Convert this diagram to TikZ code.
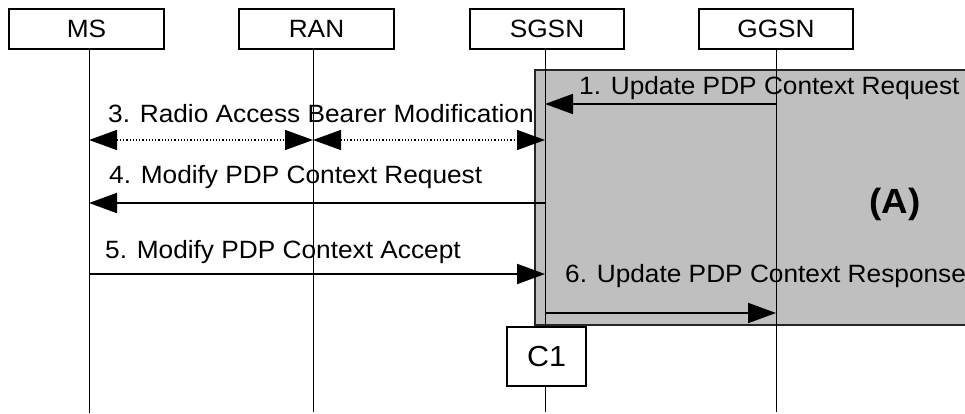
\documentclass[tikz,border=0pt]{standalone}
\usepackage{fontspec}
\setmainfont{Liberation Sans}[FakeStretch=1.05]
\usetikzlibrary{arrows.meta}
\begin{document}
\begin{tikzpicture}[x=1pt,y=-1pt,
  entity/.style={draw=black,line width=1.6pt,fill=white,inner sep=0pt,minimum height=40pt,font=\fontsize{25}{30}\selectfont},
  life/.style={draw=black,line width=0.9pt},
  msg/.style={draw=black,line width=2pt,-{Triangle[length=28pt,width=20pt]}},
  dotmsg/.style={draw=black,line width=1.2pt,dash pattern=on 1.2pt off 2pt,{Triangle[length=28pt,width=20pt]}-{Triangle[length=28pt,width=20pt]}},
  lab/.style={anchor=base west,inner sep=0pt,font=\fontsize{25}{30}\selectfont},
  region/.style={draw=black!85,line width=1.6pt,fill=black!25},
  cbox/.style={draw=black,line width=1.6pt,fill=white,inner sep=0pt,minimum width=79pt,minimum height=59pt,font=\fontsize{29}{34}\selectfont}
]
\clip (0,0) rectangle (965,414);
\fill[white] (0,0) rectangle (965,414);

% region (A)
\draw[region] (535,70) rectangle (985,325);
\node[font=\fontsize{35}{40}\selectfont\bfseries] (areaA) at (895,204) {(A)};

% entity boxes
\node[entity,minimum width=155pt] (ms) at (86.5,29) {MS};
\node[entity,minimum width=155pt] (ran) at (316.5,29) {RAN};
\node[entity,minimum width=154pt] (sgsn) at (547,29) {SGSN};
\node[entity,minimum width=154pt] (ggsn) at (776,29) {GGSN};

% lifeline ends
\coordinate (msl) at (89,413);
\coordinate (ranl) at (313,412);
\coordinate (sgsnl) at (545,412);
\coordinate (ggsnl) at (776,412);

% labels
\node[lab] (l1) at (579,95) {1. Update PDP Context Request};
\node[lab] (l3) at (108,123) {3. Radio Access Bearer Modification};
\node[lab] (l4) at (109,183) {4. Modify PDP Context Request};
\node[lab] (l5) at (105,258) {5. Modify PDP Context Accept};
\node[lab] (l6) at (565,282) {6. Update PDP Context Response};

% lifelines
\draw[life] (ms.south -| msl) -- (msl);
\draw[life] (ran.south -| ranl) -- (ranl);
\draw[life] (sgsn.south -| sgsnl) -- (sgsnl);
\draw[life] (ggsn.south -| ggsnl) -- (ggsnl);

% messages
\draw[msg] (ggsnl |- 0,104) -- (sgsnl |- 0,104);
\draw[dotmsg] (msl |- 0,140) -- (ranl |- 0,140);
\draw[dotmsg] (ranl |- 0,140) -- (sgsnl |- 0,140);
\draw[msg] (sgsnl |- 0,203) -- (msl |- 0,203);
\draw[msg] (msl |- 0,274) -- (sgsnl |- 0,274);
\draw[msg] (sgsnl |- 0,313) -- (ggsnl |- 0,313);

% C1
\node[cbox] (c1) at (546.5,356.5) {C1};
\end{tikzpicture}
\end{document}
